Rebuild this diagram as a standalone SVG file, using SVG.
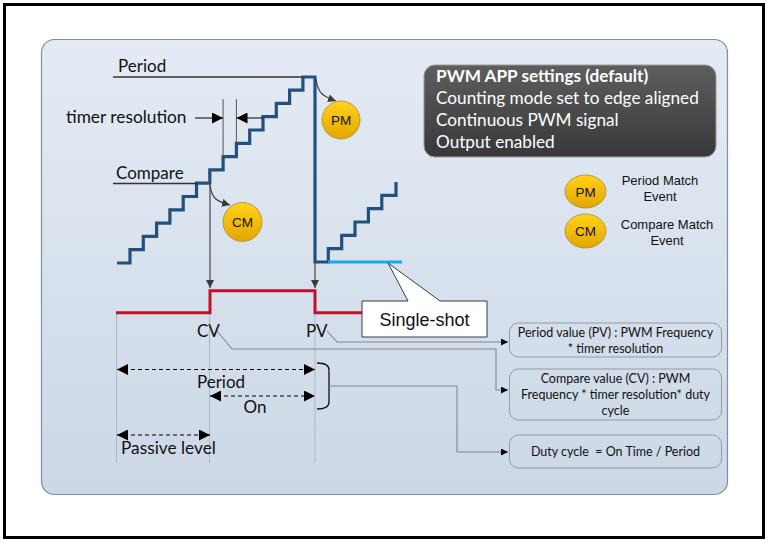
<svg xmlns="http://www.w3.org/2000/svg" width="768" height="543" viewBox="0 0 768 543">
<defs>
<linearGradient id="panelG" x1="0" y1="0" x2="0" y2="1">
<stop offset="0" stop-color="#e4ebf4"/><stop offset="1" stop-color="#ccd8e6"/>
</linearGradient>
<linearGradient id="darkG" x1="0" y1="0" x2="0" y2="1">
<stop offset="0" stop-color="#5e5e5e"/><stop offset="1" stop-color="#383838"/>
</linearGradient>
<linearGradient id="goldG" x1="0" y1="0" x2="0" y2="1">
<stop offset="0" stop-color="#ffd21a"/><stop offset="1" stop-color="#e3a600"/>
</linearGradient>
<marker id="ah" viewBox="0 0 10 10" refX="10" refY="5" markerWidth="8" markerHeight="8" markerUnits="userSpaceOnUse" orient="auto-start-reverse">
<path d="M0,0 L10,5 L0,10 Z" fill="#3a3a3a"/>
</marker>
<marker id="bh" viewBox="0 0 10 10" refX="10" refY="5" markerWidth="11" markerHeight="11" markerUnits="userSpaceOnUse" orient="auto-start-reverse">
<path d="M0,0 L10,5 L0,10 Z" fill="#000"/>
</marker>
<marker id="sh" viewBox="0 0 10 10" refX="10" refY="5" markerWidth="7" markerHeight="7" markerUnits="userSpaceOnUse" orient="auto">
<path d="M0,0 L10,5 L0,10 Z" fill="#000"/>
</marker>
</defs>
<style>
.cal{font-family:Lato,"Open Sans","Liberation Sans",sans-serif;fill:#111}
.ar{font-family:"Liberation Sans",Arial,sans-serif;fill:#111}
.wt{font-family:Lato,"Open Sans","Liberation Sans",sans-serif;fill:#fff;font-size:17.2px}
.stair{fill:none;stroke:#24507f;stroke-width:3.2;stroke-linejoin:miter}
.thin{fill:none;stroke:#333;stroke-width:1.3}
.guide{fill:none;stroke:#a9b8c8;stroke-width:1}
.conn{fill:none;stroke:#7d8894;stroke-width:1.1}
.dash{fill:none;stroke:#000;stroke-width:1.2;stroke-dasharray:4 3}
.circ{fill:url(#goldG);stroke:#a88a40;stroke-width:0.8}
.box{fill:none;stroke:#8f9bab;stroke-width:1}
</style>
<rect x="0" y="0" width="768" height="543" fill="#fff"/>
<rect x="4.5" y="4.5" width="759" height="533" fill="#fff" stroke="#000" stroke-width="3"/>
<rect id="panel" x="41.5" y="39.5" width="686" height="455" rx="13" fill="url(#panelG)" stroke="#7d8ea8" stroke-width="1.2"/>

<g id="guides">
<path class="guide" d="M116.5,313 V463 M209.5,313 V463 M315,313 V463"/>
</g>

<g id="counter">
<path class="stair" d="M117,263 H130 V249.7 H143.3 V236.4 H156.6 V223.1 H169.9 V209.8 H183.2 V196.5 H196.5 V183.2 H209.8 V169.9 H223.1 V156.6 H236.4 V143.3 H249.7 V130 H263 V116.7 H276.3 V103.4 H289.6 V90.1 H302.9 V77 H315 V262 H328.3 V248.7 H341.7 V235.4 H355 V222 H368.4 V208.7 H381.8 V195.4 H396 V182"/>
<path d="M328,262 H402" fill="none" stroke="#18a7e7" stroke-width="3"/>
</g>

<g id="labels-top">
<path class="thin" d="M113,77 H303"/>
<path class="thin" d="M113,183.5 H197"/>
<text class="cal" x="118" y="72" font-size="17">Period</text>
<text class="cal" x="116" y="179" font-size="17">Compare</text>
<text class="cal" x="66" y="123" font-size="17.3">timer resolution</text>
<path d="M223.1,99 V156.6 M236.4,99 V143.3" fill="none" stroke="#555" stroke-width="1"/>
<path d="M195,118 H223" fill="none" stroke="#000" stroke-width="1" marker-end="url(#bh)"/>
<path d="M263,118 H236.5" fill="none" stroke="#000" stroke-width="1" marker-end="url(#bh)"/>
</g>

<g id="signal">
<path d="M116,312.7 H210 V290.7 H315 V312.7 H362" fill="none" stroke="#c2102c" stroke-width="3"/>
</g>

<g id="connectors">
<path d="M316,79 C318,93 322,96 336,101" fill="none" stroke="#3a3a3a" stroke-width="1.2" marker-end="url(#ah)"/>
<path d="M210,185 C212,199 216,201 230,205" fill="none" stroke="#3a3a3a" stroke-width="1.2" marker-end="url(#ah)"/>
<path d="M210,185 V288" fill="none" stroke="#3a3a3a" stroke-width="1.1" marker-end="url(#ah)"/>
<path d="M315,263 V288" fill="none" stroke="#3a3a3a" stroke-width="1.1" marker-end="url(#ah)"/>
<path class="dash" d="M117,369.5 H315" marker-start="url(#bh)" marker-end="url(#bh)"/>
<path class="dash" d="M210,396 H315" marker-start="url(#bh)" marker-end="url(#bh)"/>
<path class="dash" d="M117,435 H210" marker-start="url(#bh)" marker-end="url(#bh)"/>
<path d="M317,363 Q329,363 329,370 V402 Q329,409 317,409" fill="none" stroke="#111" stroke-width="1.3"/>
<path class="conn" d="M327,331 L337,342 H508" marker-end="url(#sh)"/>
<path class="conn" d="M217,331 L232,349 H496 V390 H508" marker-end="url(#sh)"/>
<path class="conn" d="M329,386 H457 V452 H508" marker-end="url(#sh)"/>
</g>

<g id="texts-bottom">
<text class="cal" x="197" y="337" font-size="17">CV</text>
<text class="cal" x="306" y="337" font-size="17">PV</text>
<text class="cal" x="221" y="388" font-size="17" text-anchor="middle">Period</text>
<text class="cal" x="255" y="413" font-size="17" text-anchor="middle">On</text>
<text class="cal" x="121" y="454" font-size="17.3">Passive level</text>
</g>

<g id="pm-node">
<circle class="circ" cx="341" cy="120" r="19"/>
<text class="ar" x="341" y="125" font-size="13.5" text-anchor="middle">PM</text>
</g>
<g id="cm-node">
<circle class="circ" cx="242.5" cy="222" r="19.5"/>
<text class="ar" x="242.5" y="227" font-size="13.5" text-anchor="middle">CM</text>
</g>

<g id="single-shot">
<path d="M362,301 H408 L388,263 L440,301 H487 V337 H362 Z" fill="#fff" stroke="#3a3a3a" stroke-width="1"/>
<text class="ar" x="424.5" y="326" font-size="18" text-anchor="middle">Single-shot</text>
</g>

<g id="settings">
<rect x="424" y="65" width="292" height="92" rx="11" fill="url(#darkG)" stroke="#9a9a9a" stroke-width="1"/>
<text class="wt" x="436" y="82" font-weight="bold">PWM APP settings (default)</text>
<text class="wt" x="436" y="104">Counting mode set to edge aligned</text>
<text class="wt" x="436" y="126">Continuous PWM signal</text>
<text class="wt" x="436" y="148">Output enabled</text>
</g>

<g id="legend-pm">
<ellipse class="circ" cx="585.5" cy="191.5" rx="20.5" ry="16.5"/>
<text class="ar" x="585.5" y="196.5" font-size="13.5" text-anchor="middle">PM</text>
<text class="ar" x="660" y="185" font-size="13" text-anchor="middle">Period Match</text>
<text class="ar" x="660" y="201" font-size="13" text-anchor="middle">Event</text>
</g>
<g id="legend-cm">
<ellipse class="circ" cx="585.5" cy="231" rx="20.5" ry="17"/>
<text class="ar" x="585.5" y="236" font-size="13.5" text-anchor="middle">CM</text>
<text class="ar" x="667" y="229" font-size="13" text-anchor="middle">Compare Match</text>
<text class="ar" x="667" y="245" font-size="13" text-anchor="middle">Event</text>
</g>

<g id="box-pv">
<rect class="box" x="509.5" y="323" width="212" height="34" rx="9"/>
<text class="cal" x="615.5" y="337" font-size="12.5" text-anchor="middle">Period value (PV) : PWM Frequency</text>
<text class="cal" x="615.5" y="353" font-size="12.5" text-anchor="middle">* timer resolution</text>
</g>
<g id="box-cv">
<rect class="box" x="509.5" y="369" width="212" height="51" rx="9"/>
<text class="cal" x="615.5" y="383" font-size="12.5" text-anchor="middle">Compare value (CV) : PWM</text>
<text class="cal" x="615.5" y="399" font-size="12.5" text-anchor="middle">Frequency * timer resolution* duty</text>
<text class="cal" x="615.5" y="415" font-size="12.5" text-anchor="middle">cycle</text>
</g>
<g id="box-duty">
<rect class="box" x="509.5" y="435" width="212" height="33" rx="9"/>
<text class="cal" x="615.5" y="456" font-size="12.5" text-anchor="middle" xml:space="preserve">Duty cycle  = On Time / Period</text>
</g>
</svg>
